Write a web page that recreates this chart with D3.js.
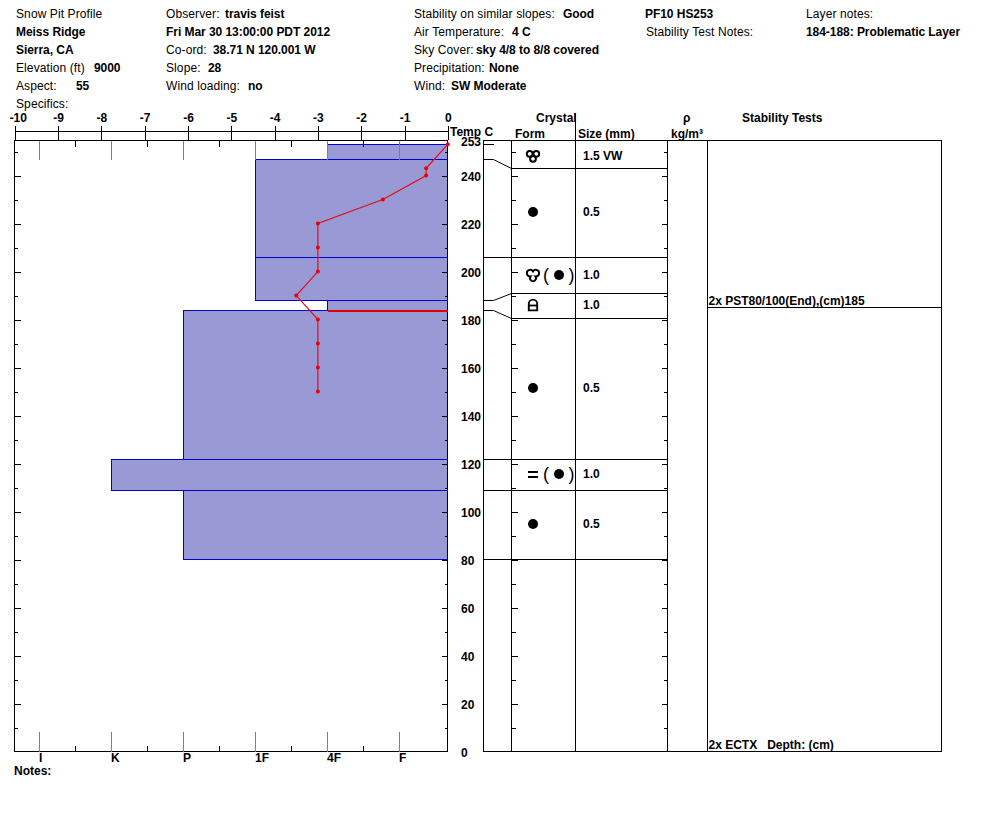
<!DOCTYPE html>
<html><head><meta charset="utf-8">
<script src="https://cdn.jsdelivr.net/npm/d3@7"></script>
<style>
html,body{margin:0;background:#fff}
svg{display:block}
text{font-family:"Liberation Sans",Arial,sans-serif;font-size:12px;fill:#000;white-space:pre}
.b,.b text{font-weight:bold}
.c{shape-rendering:crispEdges}
</style></head><body><svg id="c" width="994" height="840"></svg>
<script>
// header: [text, column, row, bold]
const headerTexts=[
["Snow Pit Profile",16,0,0],["Observer:",166,0,0],["travis feist",225,0,1],["Stability on similar slopes:",414,0,0],["Good",563,0,1],["PF10 HS253",645,0,1],["Layer notes:",806,0,0],
["Meiss Ridge",16,1,1],["Fri Mar 30 13:00:00 PDT 2012",166,1,1],["Air Temperature:",414,1,0],["4 C",512,1,1],["Stability Test Notes:",646,1,0],["184-188: Problematic Layer",806,1,1],
["Sierra, CA",16,2,1],["Co-ord:",166,2,0],["38.71 N 120.001 W",213,2,1],["Sky Cover:",414,2,0],["sky 4/8 to 8/8 covered",476,2,1],
["Elevation (ft)",16,3,0],["9000",94,3,1],["Slope:",166,3,0],["28",208,3,1],["Precipitation:",414,3,0],["None",489,3,1],
["Aspect:",16,4,0],["55",76,4,1],["Wind loading:",166,4,0],["no",248,4,1],["Wind:",414,4,0],["SW Moderate",451,4,1],
["Specifics:",16,5,0]];
const tempTicks=[-10,-9,-8,-7,-6,-5,-4,-3,-2,-1,0];
const depthTicks=[0,20,40,60,80,100,120,140,160,180,200,220,240,253];
const depthMinor=[10,30,50,70,90,110,130,150,170,190,210,230,250];
const hardnessLabels=["I","K","P","1F","4F","F"];
// hardness layers
const layerTop=[253,247,206,188,184,122,109];
const layerBottom=[247,206,188,184,122,109,80];
const layerHard=["4F","1F","1F","4F","P","K","P"];
// temperature profile
const tempDepth=[253,243,240,230,220,210,200,190,180,170,160,150];
const tempValue=[0,-0.5,-0.5,-1.5,-3,-3,-3,-3.5,-3,-3,-3,-3];
// grain column
const grainBounds=[253,243,206,191,180.4,122,109,80];
const grainSize=["1.5 VW","0.5","1.0","1.0","0.5","1.0","0.5"];
const grainPrimary=["rings","dot","trefoil","lock","dot","eq","dot"];
const grainSecondary=[null,null,"dot",null,null,"dot",null];
// connectors from left layer edge to grain column edge
const connFrom=[247,188,184];
const connTo=[243,191,180.4];
const connEqual=[206,122,109,80];
const problemDepth=184;
const testLabels=[["2x PST80/100(End),(cm)185",185],["2x ECTX   Depth: (cm)",0]];

const svg=d3.select("#c");
const L=14.5,R=447.5,T=140.5,B=751.5;
const y=d3.scaleLinear().domain([0,254.6]).range([B,T]);
const pix=v=>Math.round(y(v)-.1)+.5;
const xT=d3.scaleLinear().domain([-10,0]).range([14.8,447.8]);
const xH=d3.scalePoint().domain(hardnessLabels).range([39.5,399.5]);

// header
svg.append("g").selectAll("text").data(headerTexts).join("text")
 .attr("x",d=>d[1]).attr("y",d=>18+d[2]*18).text(d=>d[0])
 .attr("font-weight",d=>d[3]?"bold":"normal")
 .style("letter-spacing",d=>d[3]?"-0.05px":"0.1px");

// hardness bars
svg.append("g").attr("class","c").selectAll("rect").data(layerHard).join("rect")
 .attr("x",d=>xH(d)).attr("width",d=>R-xH(d))
 .attr("y",(d,i)=>pix(layerTop[i])).attr("height",(d,i)=>pix(layerBottom[i])-pix(layerTop[i]))
 .attr("fill","#9999d6").attr("stroke","#0000cc");

// frame
const line=(g,x1,y1,x2,y2,s="#000",w=1)=>g.append("line").attr("class","c").attr("x1",x1).attr("y1",y1).attr("x2",x2).attr("y2",y2).attr("stroke",s).attr("stroke-width",w);
const fr=svg.append("g");
fr.append("rect").attr("class","c").attr("x",L).attr("y",T).attr("width",R-L).attr("height",B-T).attr("fill","none").attr("stroke","#000");

// top temp axis
const gt=svg.append("g").attr("class","b").attr("transform","translate(0,130.5)")
 .call(d3.axisTop(xT).tickValues(tempTicks).tickSizeOuter(0).tickSizeInner(5).tickFormat(d=>String(d)));
gt.selectAll(".tick line").attr("y1",9).attr("y2",-5).attr("class","c");
gt.select(".domain").attr("class","domain c");
gt.selectAll("text").attr("y",-8.5).attr("x",d=>d===-10?3:0);
gt.attr("font-size",null).attr("font-family",null);

// hardness ticks
const gh=svg.append("g").attr("class","b").attr("transform",`translate(0,${B})`)
 .call(d3.axisBottom(xH).tickSize(0).tickPadding(0));
gh.select(".domain").remove();
gh.attr("font-size",null).attr("font-family",null);
gh.selectAll("text").attr("text-anchor","start").attr("x",-1).attr("y",2).attr("dy","0.71em");
hardnessLabels.forEach((h,i)=>{
 line(fr,xH(h),T,xH(h),160,"#808080");
 line(fr,xH(h),B-20,xH(h),B,"#808080");
 if(i<hardnessLabels.length-1){
  const m=(xH(h)+xH(hardnessLabels[i+1]))/2;
  line(fr,m,T,m,146.5);
  line(fr,m,B-6,m,B);
 }
});
// depth ticks on columns
const ticks=[[L,1],[R,-1],[511.5,1],[667.5,-1]];
const majors=depthTicks.filter(d=>d!==253&&d!==0);
ticks.forEach(([x0,s])=>{
 const inner=(x0===L||x0===R);
 majors.forEach(d=>line(fr,x0,y(d)+.5,x0+s*6,y(d)+.5));
 depthMinor.forEach(d=>line(fr,x0,y(d)+.5,x0+s*(inner?3:4),y(d)+.5));
});

// temperature line
const tp=tempDepth.map((d,i)=>[tempValue[i],d]);
svg.append("path").attr("d",d3.line().x(d=>xT(d[0])).y(d=>y(d[1]))(tp))
 .attr("fill","none").attr("stroke","#e0101c").attr("stroke-width",1.2);
svg.append("g").selectAll("circle").data(tp).join("circle")
 .attr("cx",d=>xT(d[0])).attr("cy",d=>y(d[1])).attr("r",2).attr("fill","#ee0000");
line(svg,xH("4F"),pix(problemDepth)+.5,R,pix(problemDepth)+.5,"#e00000",2);

// depth labels
const gd=svg.append("g").attr("class","b").attr("transform","translate(461,0)")
 .call(d3.axisRight(y).tickValues(depthTicks).tickSize(0).tickPadding(0).tickFormat(d3.format("d")));
gd.select(".domain").remove();
gd.attr("font-size",null).attr("font-family",null);
gd.selectAll("text").attr("dy",d=>d===253?"0.12em":"0.42em");

// right columns
const cols=[483.5,511.5,575.5,667.5,707.5,941.5];
const rc=svg.append("g");
rc.append("rect").attr("class","c").attr("x",cols[0]).attr("y",T).attr("width",cols[5]-cols[0]).attr("height",B-T).attr("fill","none").attr("stroke","#000");
cols.slice(1,5).forEach(x=>line(rc,x,T,x,B));
line(rc,575.5,113,575.5,T);
grainBounds.slice(1).forEach(d=>line(rc,511.5,pix(d),667.5,pix(d)));
connEqual.forEach(d=>line(rc,483.5,pix(d),511.5,pix(d)));
line(rc,483.5,pix(253),493.5,pix(253));
connFrom.forEach((d,i)=>{
 rc.append("polyline").attr("fill","none").attr("stroke","#000")
  .attr("points",[[483.5,pix(d)],[493.5,pix(d)],[511.5,pix(connTo[i])]].join(" "));
});

// grain size labels and symbols
const centers=grainSize.map((s,i)=>Math.floor((pix(grainBounds[i])+pix(grainBounds[i+1]))/2-.5));
svg.append("g").attr("class","b").selectAll("text").data(grainSize).join("text")
 .attr("x",583).attr("y",(d,i)=>centers[i]+3.5).text(d=>d);
function sym(kind,cx,cy){
 const g=svg.append("g").attr("transform",`translate(${cx},${cy})`).attr("fill","none").attr("stroke","#000");
 if(kind==="dot"){g.append("circle").attr("r",5).attr("fill","#000").attr("stroke","none");}
 if(kind==="rings"){[[-3.3,-2.2],[3.3,-2.2],[0,2.8]].forEach(p=>g.append("circle").attr("cx",p[0]).attr("cy",p[1]).attr("r",2.9).attr("stroke-width",2));}
 if(kind==="trefoil"){g.append("path").attr("stroke-width",1.9).attr("d","M0,-3.6 A3.3,3.3 0 1 0 -2.4,1.4 A3,3 0 1 0 2.4,1.4 A3.3,3.3 0 1 0 0,-3.6Z");}
 if(kind==="lock"){g.append("path").attr("stroke-width",1.9).attr("d","M-4.2,5.4 V-1.2 A4.2,4.2 0 0 1 4.2,-1.2 V5.4 Z");
  g.append("line").attr("x1",-4).attr("x2",4).attr("y1",0.5).attr("y2",0.5).attr("stroke-width",1.8);}
 if(kind==="eq"){[-2.5,2.5].forEach(v=>g.append("line").attr("x1",-5).attr("x2",5).attr("y1",v).attr("y2",v).attr("stroke-width",2).attr("class","c"));}
}
grainPrimary.forEach((k,i)=>{
 sym(k,533,centers[i]);
 if(grainSecondary[i]){
  sym(grainSecondary[i],559,centers[i]);
  [["(",546],[")",571.5]].forEach(p=>svg.append("text").attr("x",p[1]).attr("y",centers[i]+6).attr("text-anchor","middle").style("font-size","18px").text(p[0]));
 }
});

// stability tests
line(rc,707.5,pix(185),941.5,pix(185));
svg.append("g").attr("class","b").selectAll("text").data(testLabels).join("text")
 .attr("x",708.5).attr("y",d=>d[1]===0?B-2.5:pix(d[1])-3).text(d=>d[0]);

// column headers
const heads=[["Temp C",450,136],["Form",515,138],["Crystal",536,122],["Size (mm)",578,138],["ρ",683,122],["kg/m³",671,138],["Stability Tests",742,122],["Notes:",14,775]];
svg.append("g").attr("class","b").selectAll("text").data(heads).join("text")
 .attr("x",d=>d[1]).attr("y",d=>d[2]).text(d=>d[0]);
</script></body></html>
